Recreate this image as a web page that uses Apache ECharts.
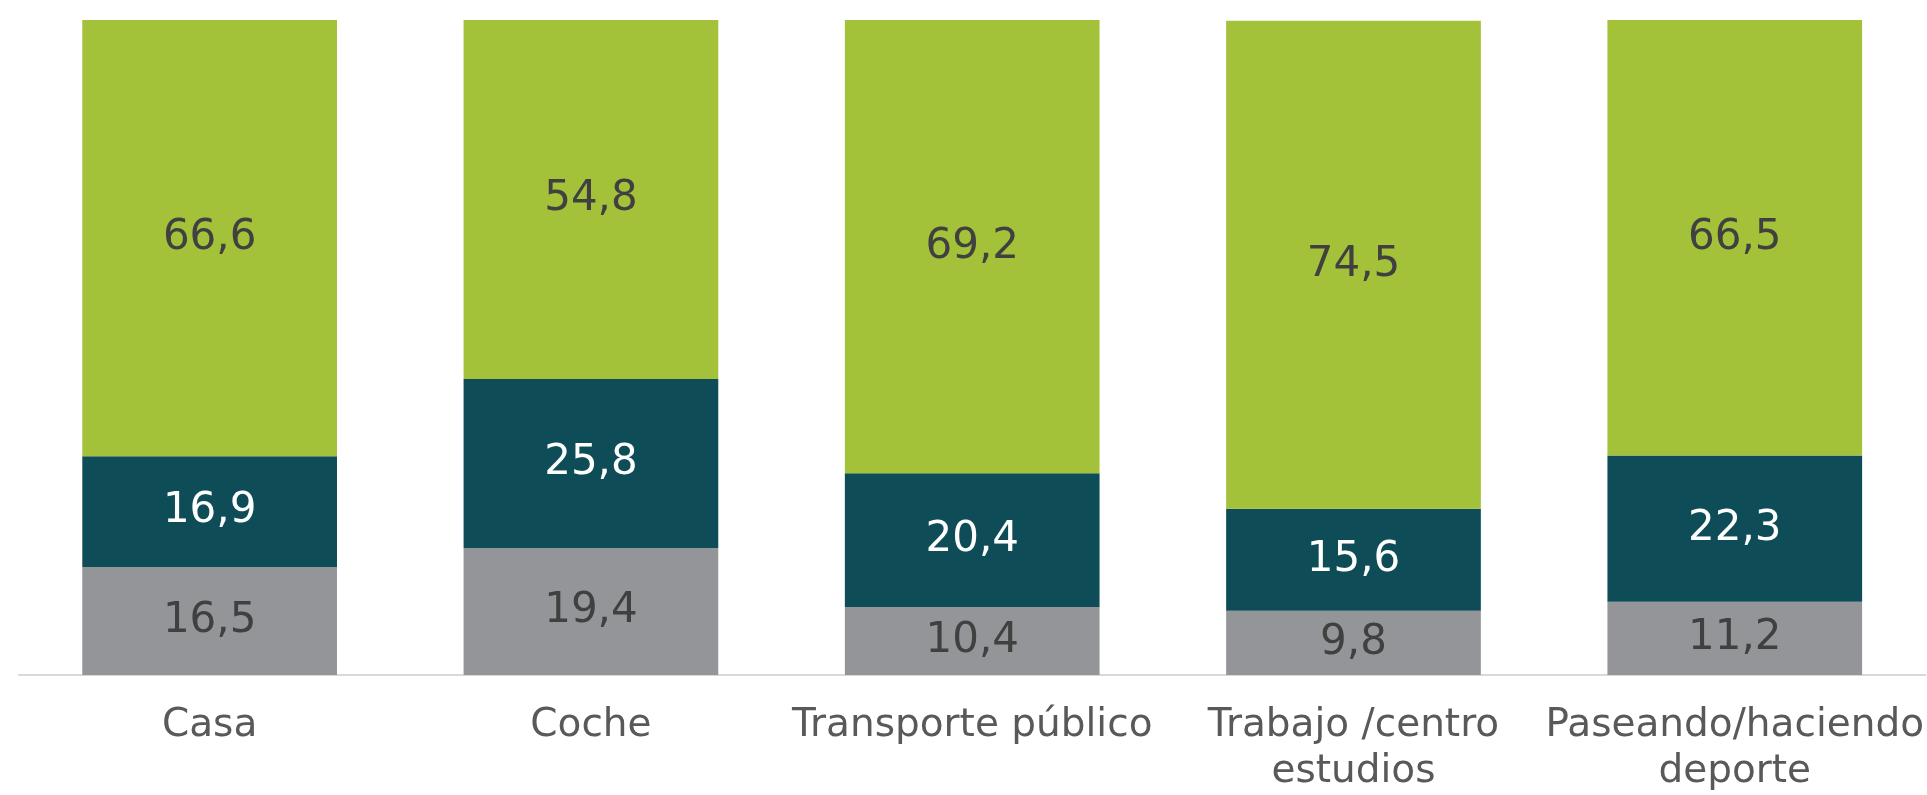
<!DOCTYPE html>
<html>
<head>
<meta charset="utf-8">
<script src="https://cdn.jsdelivr.net/npm/echarts@6/dist/echarts.min.js"></script>
<style>
html,body{margin:0;padding:0;background:#fff;overflow:hidden;}
#chart{width:1927px;height:795px;}
</style>
</head>
<body>
<div id="chart"></div>
<script>
var categories = ['Casa', 'Coche', 'Transporte público', 'Trabajo /centro\nestudios', 'Paseando/haciendo\ndeporte'];
var grayValues = [16.5, 19.4, 10.4, 9.8, 11.2];
var tealValues = [16.9, 25.8, 20.4, 15.6, 22.3];
var greenValues = [66.6, 54.8, 69.2, 74.5, 66.5];

var FONT = 'DejaVu Sans';
function fmt(p){ return String(p.value.toFixed(1)).replace('.', ','); }
function seriesOf(name, data, color, labelColor){
  return {
    name: name, type: 'bar', stack: 'total', data: data,
    barCategoryGap: '33.2%',
    itemStyle: { color: color },
    label: { show: true, position: 'inside', formatter: fmt, color: labelColor, fontFamily: FONT, fontSize: 42 },
    emphasis: { disabled: true }
  };
}
var chart = echarts.init(document.getElementById('chart'), null, { renderer: 'canvas' });
chart.setOption({
  animation: false,
  grid: { left: 19, right: 1, top: 20, bottom: 115, containLabel: false },
  xAxis: {
    type: 'category', data: categories,
    axisLine: { lineStyle: { color: '#d9d9d9', width: 2 } },
    axisTick: { show: false },
    axisLabel: { color: '#595959', fontFamily: FONT, fontSize: 39, lineHeight: 46, margin: 28, interval: 0 }
  },
  yAxis: { type: 'value', min: 0, max: 100, show: false, splitLine: { show: false } },
  series: [
    seriesOf('gray', grayValues, '#939599', '#404040'),
    seriesOf('teal', tealValues, '#0e4d57', '#ffffff'),
    seriesOf('green', greenValues, '#a3c139', '#404040')
  ]
});
</script>
</body>
</html>
